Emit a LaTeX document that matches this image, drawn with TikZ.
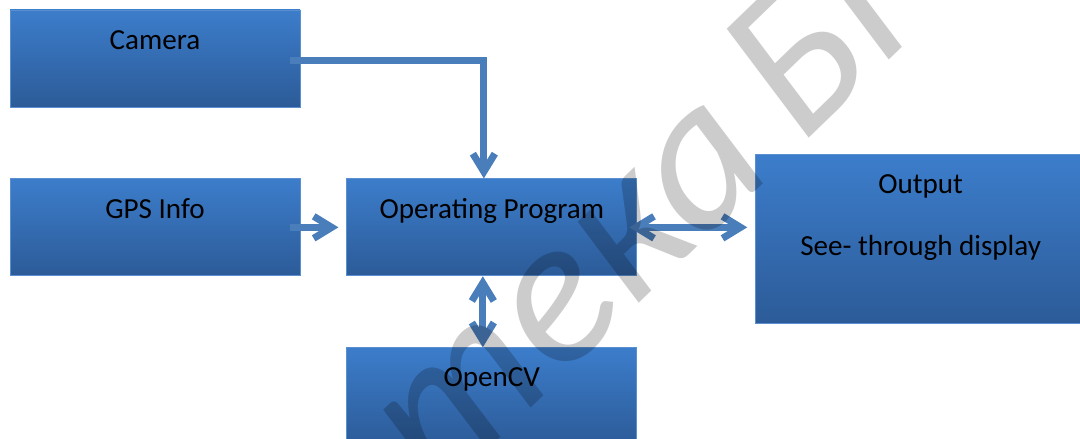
\documentclass[tikz,border=0pt]{standalone}
\usepackage{fontspec}
\setmainfont{Carlito}
\usetikzlibrary{positioning,arrows.meta}
\definecolor{boxtop}{HTML}{3C7DCB}
\definecolor{boxbottom}{HTML}{2C5B98}
\definecolor{boxline}{HTML}{5B8FD0}
\definecolor{arrowblue}{HTML}{4A7EBB}

\begin{document}
\begin{tikzpicture}[node distance=1.775cm, >={Straight Barb[length=0.45cm,width=0.55cm]}]
        % Define block styles
        \tikzstyle{block} = [rectangle, draw=boxline, line width=0.6pt, top color=boxtop, bottom color=boxbottom, minimum width=7.25cm, minimum height=2.425cm, inner sep=0pt]
        \tikzstyle{blocktext} = [anchor=base, font=\fontsize{20.7pt}{25pt}\selectfont, inner sep=0pt]
        \tikzstyle{arrow} = [->, draw=arrowblue, line width=5pt]
        \tikzstyle{watermark} = [rotate=44, text=black, text opacity=0.2, font=\fontsize{150pt}{150pt}\selectfont\itshape, inner sep=0pt]

        \useasboundingbox (0,0) rectangle (27,10.975);
        \clip (0,0) rectangle (27,10.975);

        % Nodes
        \node[block] (camera) at (3.875,9.5125) {};
        \node[block, below=of camera] (gps) {};
        \node[block, right=1.15cm of gps] (program) {};
        \node[block, below=of program] (opencv) {};
        \node[block, right=2.95cm of program, yshift=-0.3cm, minimum width=8.25cm, minimum height=4.225cm] (output) {};

        % Texts
        \node[blocktext] (cameraText) at ([yshift=-1cm]camera.north) {Camera};
        \node[blocktext] (gpsText) at ([yshift=-1cm]gps.north) {GPS Info};
        \node[blocktext] (programText) at ([yshift=-1cm]program.north) {Operating Program};
        \node[blocktext] (opencvText) at ([yshift=-0.975cm]opencv.north) {OpenCV};
        \node[blocktext] (outputText) at ([yshift=-0.975cm]output.north) {Output};
        \node[blocktext] (displayText) at ([yshift=-2.525cm]output.north) {See- through display};

        % Arrows
        \draw[arrow] ([xshift=-0.25cm, yshift=-0.04cm]camera.east) -| ([xshift=-0.2cm]program.north);
        \draw[arrow] ([xshift=-0.25cm]gps.east) -- ([xshift=-0.2cm]program.west);
        \draw[arrow, <->, shorten <=-0.2cm, shorten >=0.2cm] (program.east) -- (program.east -| output.west);
        \draw[arrow, <->] ([xshift=-0.225cm]program.south) -- ([xshift=-0.225cm]opencv.north);

        % Watermark
        \node[watermark, anchor=base west] (wmRight) at (20.0,7.3) {БГУИР};
        \node[watermark, anchor=base east] (wmLeft) at (19.45,6.75) {Библиотека};

    \end{tikzpicture}
\end{document}
